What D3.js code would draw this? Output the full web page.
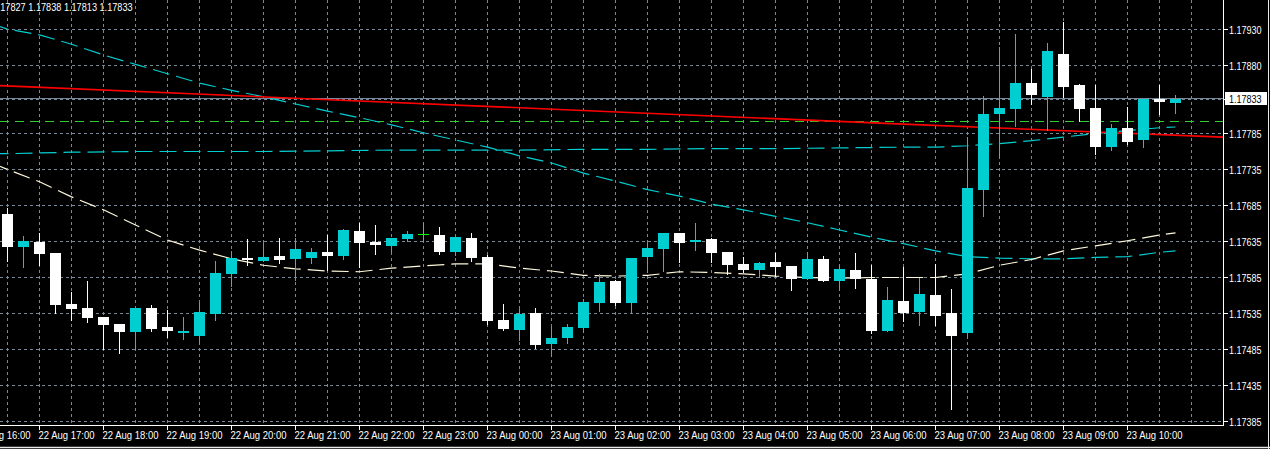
<!DOCTYPE html>
<html><head><meta charset="utf-8">
<script src="https://cdn.jsdelivr.net/npm/d3@7"></script>
<style>html,body{margin:0;padding:0;background:#000;overflow:hidden}
text{font-family:Tahoma,"Liberation Sans",Arial,sans-serif;}</style>
</head><body><svg id="c" width="1270" height="449"></svg>
<script>
// ---- data (EURUSD M15, first bar 22 Aug 16:30) ----
const firstBar = "22 Aug 16:30";
const open = [1.17673,1.17628,1.17634,1.17619,1.17548,1.17543,1.17530,1.17520,1.17509,1.17543,
1.17516,1.17508,1.17504,1.17534,1.17590,1.17612,1.17608,1.17615,1.17611,1.17612,
1.17620,1.17615,1.17650,1.17634,1.17629,1.17638,1.17645,1.17644,1.17620,1.17640,
1.17613,1.17526,1.17512,1.17536,1.17493,1.17501,1.17515,1.17550,1.17580,1.17550,
1.17613,1.17625,1.17647,1.17634,1.17638,1.17620,1.17604,1.17595,1.17607,1.17601,
1.17583,1.17611,1.17580,1.17595,1.17583,1.17511,1.17552,1.17537,1.17561,1.17536,
1.17508,1.17707,1.17812,1.17819,1.17855,1.17836,1.17895,1.17852,1.17820,1.17766,
1.17793,1.17776,1.17833,1.17827];
const high = [1.17682,1.17643,1.17647,1.17619,1.17565,1.17580,1.17530,1.17520,1.17543,1.17547,
1.17540,1.17530,1.17550,1.17608,1.17622,1.17638,1.17633,1.17640,1.17640,1.17626,
1.17644,1.17652,1.17661,1.17658,1.17640,1.17650,1.17661,1.17655,1.17641,1.17647,
1.17616,1.17548,1.17541,1.17543,1.17516,1.17520,1.17555,1.17590,1.17582,1.17612,
1.17633,1.17647,1.17647,1.17661,1.17640,1.17620,1.17613,1.17607,1.17619,1.17601,
1.17620,1.17615,1.17602,1.17619,1.17602,1.17572,1.17600,1.17584,1.17604,1.17569,
1.17780,1.17837,1.17905,1.17923,1.17875,1.17911,1.17940,1.17854,1.17852,1.17798,
1.17822,1.17833,1.17852,1.17838];
const low = [1.17608,1.17600,1.17602,1.17536,1.17526,1.17523,1.17486,1.17480,1.17486,1.17511,
1.17502,1.17500,1.17494,1.17526,1.17573,1.17602,1.17608,1.17605,1.17582,1.17605,
1.17595,1.17611,1.17600,1.17618,1.17620,1.17636,1.17637,1.17618,1.17616,1.17608,
1.17520,1.17512,1.17498,1.17487,1.17476,1.17494,1.17509,1.17538,1.17547,1.17537,
1.17593,1.17594,1.17607,1.17623,1.17607,1.17590,1.17593,1.17586,1.17587,1.17568,
1.17583,1.17580,1.17569,1.17570,1.17508,1.17511,1.17525,1.17519,1.17519,1.17402,
1.17502,1.17671,1.17752,1.17795,1.17826,1.17790,1.17836,1.17802,1.17757,1.17762,
1.17770,1.17766,1.17812,1.17813];
const close = [1.17628,1.17636,1.17618,1.17547,1.17541,1.17529,1.17519,1.17509,1.17543,1.17513,
1.17511,1.17511,1.17537,1.17591,1.17612,1.17609,1.17613,1.17609,1.17625,1.17620,
1.17615,1.17651,1.17633,1.17630,1.17640,1.17645,1.17645,1.17620,1.17641,1.17612,
1.17525,1.17513,1.17534,1.17491,1.17501,1.17516,1.17551,1.17579,1.17550,1.17612,
1.17626,1.17647,1.17633,1.17637,1.17619,1.17602,1.17595,1.17605,1.17600,1.17583,
1.17611,1.17580,1.17597,1.17583,1.17511,1.17554,1.17536,1.17562,1.17532,1.17504,
1.17709,1.17812,1.17820,1.17855,1.17839,1.17900,1.17850,1.17819,1.17766,1.17793,
1.17773,1.17833,1.17829,1.17833];

// overlay lines (bar index, price)
const maCreamIdx = [-1,0,2,4,6,8,10,12,14,16,18,20,22,24,26,28,30,32,34,36,38,40,42,44,46,48,50,52,54,56,58,60,62,64,66,68,70,72,73];
const maCream = [1.17744,1.17735,1.17718,1.17697,1.17679,1.17658,1.17637,1.17623,1.17611,1.17602,1.17597,1.17594,1.17593,1.17598,1.17601,1.17604,1.17604,1.17598,1.17594,1.17588,1.17587,1.17588,1.17593,1.17592,1.17590,1.17587,1.17585,1.17584,1.17585,1.17585,1.17585,1.17590,1.17602,1.17610,1.17622,1.17629,1.17636,1.17644,1.17647];
const maCyanFastIdx = [-1,0,2,4,6,8,10,12,14,16,18,20,22,24,26,28,30,32,34,36,38,40,42,44,46,48,50,52,54,56,58,60,62,64,66,68,70,72,73];
const maCyanFast = [1.17937,1.17930,1.17922,1.17909,1.17894,1.17881,1.17868,1.17855,1.17845,1.17836,1.17826,1.17816,1.17807,1.17797,1.17786,1.17776,1.17766,1.17754,1.17744,1.17730,1.17719,1.17707,1.17698,1.17687,1.17679,1.17670,1.17661,1.17651,1.17641,1.17632,1.17622,1.17614,1.17612,1.17611,1.17611,1.17613,1.17614,1.17620,1.17622];
const maCyanSlowIdx = [-1,0,4,8,12,16,20,24,28,32,36,40,44,48,52,56,58,60,62,64,66,68,70,72,73];
const maCyanSlow = [1.17757,1.17757,1.17759,1.17760,1.17760,1.17760,1.17761,1.17762,1.17762,1.17762,1.17763,1.17763,1.17764,1.17764,1.17765,1.17766,1.17766,1.17768,1.17771,1.17775,1.17780,1.17785,1.17789,1.17793,1.17794];
const maRedIdx = [-1,19,37,56,76];
const maRed = [1.17852,1.17833,1.17816,1.17798,1.17780];
const greenLevel = 1.17802;
const bidPrice = 1.17833;
const headerText = "1.17827 1.17838 1.17813 1.17833";

// axis ticks
const priceTicks = [1.17385,1.17435,1.17485,1.17535,1.17585,1.17635,1.17685,1.17735,1.17785,1.17832,1.17880,1.17930];
const priceTickLabels = ["1.17385","1.17435","1.17485","1.17535","1.17585","1.17635","1.17685","1.17735","1.17785","1.17830","1.17880","1.17930"];
const timeTickLabels = ["22 Aug 16:00","22 Aug 17:00","22 Aug 18:00","22 Aug 19:00","22 Aug 20:00","22 Aug 21:00","22 Aug 22:00","22 Aug 23:00","23 Aug 00:00","23 Aug 01:00","23 Aug 02:00","23 Aug 03:00","23 Aug 04:00","23 Aug 05:00","23 Aug 06:00","23 Aug 07:00","23 Aug 08:00","23 Aug 09:00","23 Aug 10:00"];
const timeTickIdx = timeTickLabels.map((d,k)=> -2 + 4*k); // hourly = 4 bars

// ---- drawing ----
const W=1270,H=449, plotR=1223, plotB=425;
const svg=d3.select("#c");
svg.append("rect").attr("width",W).attr("height",H).attr("fill","#000");
const x=d3.scaleLinear().domain([-0.46875,75.96875]).range([0,plotR]);
const y=d3.scaleLinear().domain([1.17385,1.17930]).range([421.5,29.1]);
const px=v=>Math.round(x(v)-0.5)+0.5;
const py=v=>Math.round(y(v)-0.5)+0.5;

svg.append("defs").append("clipPath").attr("id","clip").append("rect")
  .attr("x",0).attr("y",0).attr("width",plotR).attr("height",plotB);
const plot=svg.append("g").attr("clip-path","url(#clip)");

const gridCol="#778899";
const vIdx=d3.range(0,75,2);
plot.selectAll(".vg").data(vIdx).join("line")
  .attr("x1",d=>px(d)).attr("x2",d=>px(d)).attr("y1",0).attr("y2",plotB)
  .attr("stroke",gridCol).attr("stroke-dasharray","3,3").attr("shape-rendering","crispEdges");
plot.selectAll(".hg").data(priceTicks).join("line")
  .attr("x1",0).attr("x2",plotR).attr("y1",d=>py(d)).attr("y2",d=>py(d))
  .attr("stroke",gridCol).attr("stroke-dasharray","3,3").attr("shape-rendering","crispEdges");

plot.append("line").attr("x1",0).attr("x2",plotR).attr("y1",py(bidPrice)).attr("y2",py(bidPrice))
  .attr("stroke",gridCol).attr("shape-rendering","crispEdges");
plot.append("line").attr("x1",0).attr("x2",plotR).attr("y1",py(greenLevel)).attr("y2",py(greenLevel))
  .attr("stroke","#32CD32").attr("stroke-dasharray","9,6").attr("shape-rendering","crispEdges");

function drawLine(idx,vals,color,dash,w){
  const pts=idx.map((d,k)=>[x(d),y(vals[k])]);
  plot.append("path").attr("d",d3.line()(pts)).attr("fill","none")
    .attr("stroke",color).attr("stroke-width",w||1).attr("stroke-dasharray",dash||null);
}
drawLine(maCyanFastIdx,maCyanFast,"#00CED1","17,7",1.2);
drawLine(maCyanSlowIdx,maCyanSlow,"#00CED1","17,7",1.2);
drawLine(maCreamIdx,maCream,"#FFF8DC","17,7",1.2);
drawLine(maRedIdx,maRed,"#FF0000",null,1.6);

const bars=open.map((o,i)=>({i,o,h:high[i],l:low[i],c:close[i]}));
const colOf=d=> d.c>d.o ? "#00CED1" : (d.c<d.o ? "#FFFFFF" : "#00FF00");
const cg=plot.append("g").attr("shape-rendering","crispEdges");
cg.selectAll(".wick").data(bars).join("line")
  .attr("x1",d=>px(d.i)).attr("x2",d=>px(d.i))
  .attr("y1",d=>Math.round(y(d.h))).attr("y2",d=>Math.round(y(d.l))+1)
  .attr("stroke",colOf);
cg.selectAll(".body").data(bars).join("rect")
  .attr("x",d=>px(d.i)-5.5).attr("width",11)
  .attr("y",d=>Math.round(y(Math.max(d.o,d.c))))
  .attr("height",d=>Math.max(1,Math.round(y(Math.min(d.o,d.c)))-Math.round(y(Math.max(d.o,d.c)))))
  .attr("fill",colOf);

const fs="11px";
svg.append("text").attr("x",-7.4).attr("y",11).attr("font-size",fs).attr("fill","#ffffff")
  .attr("textLength",140).attr("lengthAdjust","spacingAndGlyphs").text(headerText);

svg.append("line").attr("x1",plotR+0.5).attr("x2",plotR+0.5).attr("y1",0).attr("y2",plotB+1).attr("stroke","#fff");
svg.append("line").attr("x1",0).attr("x2",plotR+1).attr("y1",plotB+0.5).attr("y2",plotB+0.5).attr("stroke","#fff");
svg.append("line").attr("x1",0).attr("x2",W).attr("y1",447.5).attr("y2",447.5).attr("stroke","#e8e8e8").attr("stroke-width",1.5);
svg.append("line").attr("x1",1268.5).attr("x2",1268.5).attr("y1",0).attr("y2",H).attr("stroke","#e8e8e8");

const pa=svg.append("g");
priceTicks.forEach((v,k)=>{
  pa.append("line").attr("x1",plotR+1).attr("x2",plotR+5).attr("y1",py(v)).attr("y2",py(v)).attr("stroke","#fff").attr("shape-rendering","crispEdges");
  pa.append("text").attr("x",1229).attr("y",py(v)+4).attr("font-size",fs).attr("fill","#fff")
    .attr("textLength",32.5).attr("lengthAdjust","spacingAndGlyphs").text(priceTickLabels[k]);
});
const by=py(bidPrice);
pa.append("rect").attr("x",1225).attr("y",by-6.5).attr("width",42).attr("height",13).attr("fill","#fff");
pa.append("text").attr("x",1229).attr("y",by+4).attr("font-size",fs).attr("fill","#000")
  .attr("textLength",32.5).attr("lengthAdjust","spacingAndGlyphs").text(d3.format(".5f")(bidPrice));

const ta=svg.append("g");
timeTickIdx.forEach((t,k)=>{
  const xx=px(t);
  ta.append("line").attr("x1",xx).attr("x2",xx).attr("y1",plotB).attr("y2",plotB+5).attr("stroke","#fff").attr("shape-rendering","crispEdges");
  ta.append("text").attr("x",xx-1).attr("y",438.5).attr("font-size",fs).attr("fill","#fff")
    .attr("textLength",56).attr("lengthAdjust","spacingAndGlyphs").text(timeTickLabels[k]);
});
</script></body></html>
